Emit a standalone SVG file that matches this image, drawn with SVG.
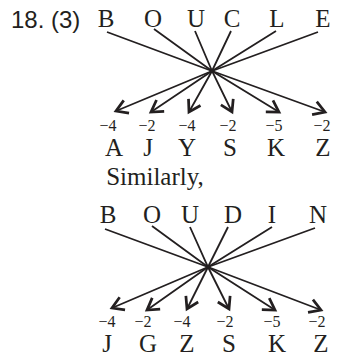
<svg xmlns="http://www.w3.org/2000/svg" width="339" height="360" viewBox="0 0 339 360">
<style>
.big{font-family:"Liberation Serif",serif;font-size:25px;fill:#231f20;text-anchor:middle}
.sub{font-family:"Liberation Serif",serif;font-size:16px;fill:#231f20;text-anchor:middle}
.num{font-family:"Liberation Sans",sans-serif;font-size:24px;fill:#231f20}
.ln{fill:none;stroke:#231f20;stroke-width:1.8;marker-end:url(#arr)}
</style>
<defs>
<marker id="arr" markerUnits="userSpaceOnUse" markerWidth="20" markerHeight="20" refX="0" refY="0" viewBox="-12 -8 14 16" orient="auto">
<path d="M-9,-5.5 L0,0 L-9,5.5" fill="none" stroke="#231f20" stroke-width="2.2" stroke-linejoin="miter"/>
</marker>
</defs>
<rect width="339" height="360" fill="#fff"/>
<text class="num" x="11" y="28">18. (3)</text>
<g id="top-word">
<text class="big" x="106" y="27">B</text>
<text class="big" x="153" y="27">O</text>
<text class="big" x="196" y="27">U</text>
<text class="big" x="232" y="27">C</text>
<text class="big" x="277" y="27">L</text>
<text class="big" x="323" y="27">E</text>
</g>
<g id="connectors-1">
<path class="ln" d="M107,32 L212,71 L325,112"/>
<path class="ln" d="M154,29 L212,71 L279,112"/>
<path class="ln" d="M195,31 L212,71 L232,112"/>
<path class="ln" d="M231,31 L212,71 L189,112"/>
<path class="ln" d="M276,31 L212,71 L151,112"/>
<path class="ln" d="M318,32 L212,71 L116,111"/>
</g>
<g id="top-result">
<text class="sub" x="108" y="130.5">−4</text>
<text class="sub" x="147" y="130.5">−2</text>
<text class="sub" x="187" y="130.5">−4</text>
<text class="sub" x="228" y="130.5">−2</text>
<text class="sub" x="274" y="130.5">−5</text>
<text class="sub" x="322" y="130.5">−2</text>
<text class="big" x="114" y="156">A</text>
<text class="big" x="148" y="156">J</text>
<text class="big" x="187" y="156">Y</text>
<text class="big" x="230" y="156">S</text>
<text class="big" x="276" y="156">K</text>
<text class="big" x="323" y="156">Z</text>
</g>
<text class="big" x="155" y="185">Similarly,</text>
<g id="bottom-word">
<text class="big" x="108" y="223">B</text>
<text class="big" x="152" y="223">O</text>
<text class="big" x="190" y="223">U</text>
<text class="big" x="233" y="223">D</text>
<text class="big" x="272" y="223">I</text>
<text class="big" x="318" y="223">N</text>
</g>
<g id="connectors-2">
<path class="ln" d="M105,229 L208,267 L321,310"/>
<path class="ln" d="M152,226 L208,267 L275,310"/>
<path class="ln" d="M190,227 L208,267 L229,309"/>
<path class="ln" d="M228,227 L208,267 L187,309"/>
<path class="ln" d="M272,227 L208,267 L147,310"/>
<path class="ln" d="M315,228 L208,267 L112,308"/>
</g>
<g id="bottom-result">
<text class="sub" x="107" y="326.5">−4</text>
<text class="sub" x="143" y="326.5">−2</text>
<text class="sub" x="182" y="326.5">−4</text>
<text class="sub" x="225" y="326.5">−2</text>
<text class="sub" x="272" y="326.5">−5</text>
<text class="sub" x="317" y="326.5">−2</text>
<text class="big" x="107" y="352">J</text>
<text class="big" x="148" y="352">G</text>
<text class="big" x="187" y="352">Z</text>
<text class="big" x="229" y="352">S</text>
<text class="big" x="277" y="352">K</text>
<text class="big" x="321" y="352">Z</text>
</g>
</svg>
